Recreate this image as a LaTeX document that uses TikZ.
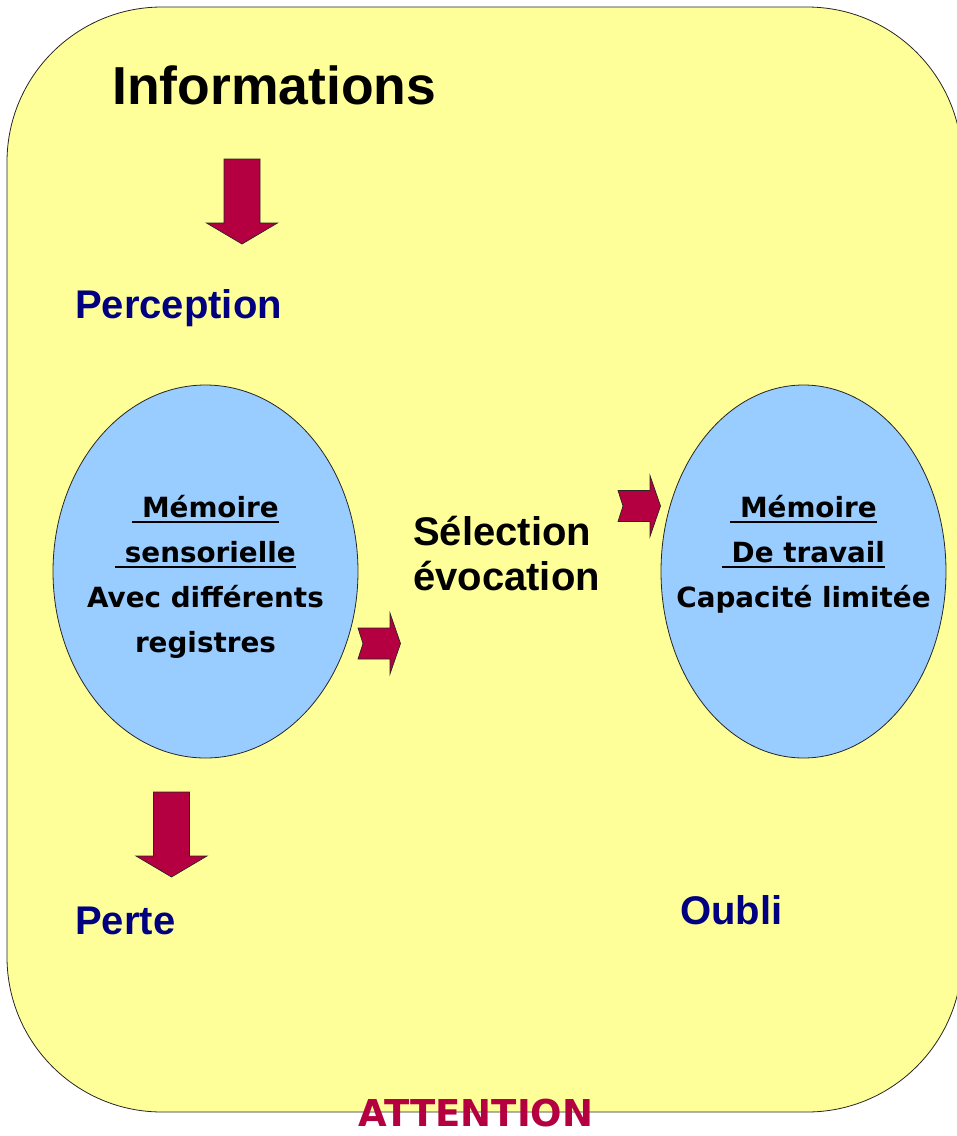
\documentclass[tikz,border=0pt]{standalone}
\usepackage{fontspec}
\setmainfont{Liberation Sans}
\newfontfamily\comicfont{DejaVu Sans}
\usetikzlibrary{shapes,positioning}
\definecolor{memyellow}{RGB}{255,255,153}
\definecolor{memblue}{RGB}{153,204,255}
\definecolor{memred}{RGB}{180,0,64}
\definecolor{memnavy}{RGB}{0,0,128}
\tikzstyle{blockarrow} = [fill=memred, draw=black!85, line width=0.7pt, line join=miter]
\tikzstyle{memoire} = [ellipse, draw=black!85, fill=memblue, line width=0.8pt, inner sep=0pt]
\tikzstyle{memtext} = [align=center, inner sep=0pt, font=\comicfont\bfseries\fontsize{27.8}{45}\selectfont]
\tikzstyle{stage} = [inner sep=0pt, anchor=base west, text=memnavy, font=\bfseries\fontsize{40}{45}\selectfont]
\newcommand{\memline}[1]{\sbox0{#1}\rlap{\rule[-6pt]{\wd0}{2pt}}\usebox0}
\tikzset{
  pics/downarrow/.style={code={
    \filldraw[blockarrow] (-18,0) -- (18,0) -- (18,64) -- (35.5,64) -- (0,85) -- (-35.5,64) -- (-18,64) -- cycle;}},
  pics/notcharrow/.style={code={
    \filldraw[blockarrow] (0,-15.5) -- (32,-15.5) -- (32,-30.5) -- (42.5,0) -- (32,30.5) -- (32,15.5) -- (0,15.5) -- (5,0) -- cycle;}}
}

\begin{document}
\begin{tikzpicture}[x=1pt, y=-1pt]
    \useasboundingbox (0,0) rectangle (957,1136);
    % Background
    \draw[fill=memyellow, draw=black!85, line width=0.8pt, rounded corners=155pt] (7,7) rectangle (962,1112);

    % Nodes
    \node[stage, text=black, font=\bfseries\fontsize{53.5}{60}\selectfont] (info) at (112,104) {Informations};
    \node[stage] (perc) at (75,318) {Perception};
    \node[memoire, minimum width=305pt, minimum height=373pt] (sens) at (205.5,571.5) {};
    \node[memoire, minimum width=285pt, minimum height=373pt] (trav) at (803.5,571.5) {};
    \node[memtext, anchor=north] (senstxt) at (205.5,495) {\memline{~Mémoire}\\\memline{~sensorielle}\\Avec différents\\registres};
    \node[memtext, anchor=north] (travtxt) at (803.5,495) {\memline{~Mémoire}\\\memline{~De travail}\\Capacité limitée};
    \node[stage, text=black, align=left] (sel) at (413,590) {Sélection\\évocation};
    \node[stage] (perte) at (75,934) {Perte};
    \node[stage] (oubli) at (680,924) {Oubli};

    % Arrows
    \pic at (242,159) {downarrow};
    \pic at (171.5,792) {downarrow};
    \pic at (358,643.5) {notcharrow};
    \pic at (618,506) {notcharrow};

    % Bottom label
    \node[memtext, text=memred, font=\comicfont\bfseries\fontsize{37}{40}\selectfont] (att) at (476,1113) {ATTENTION};
\end{tikzpicture}
\end{document}
